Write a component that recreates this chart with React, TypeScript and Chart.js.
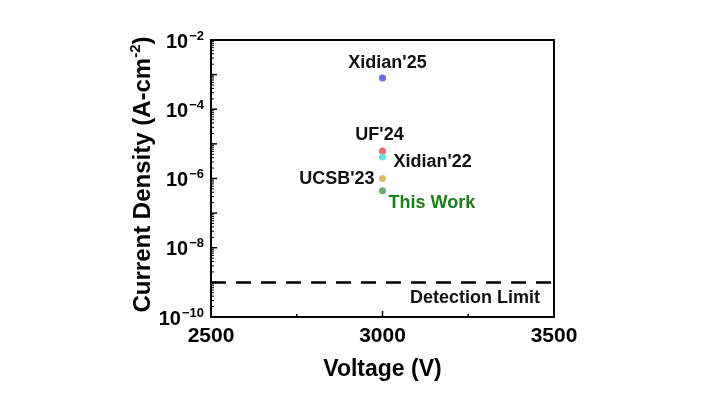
import React, { useEffect, useRef } from "react";
import { Chart, registerables } from "chart.js";

Chart.register(...registerables);

const pointNames = ["Xidian'25", "UF'24", "Xidian'22", "UCSB'23", "This Work"];
const voltages = [3000, 3000, 3000, 3000, 3000];
const currents = [8e-4, 6.2e-6, 4.2e-6, 1e-6, 4.4e-7];
const pointColors = ["#6a6af0", "#ee6a6a", "#6ae0e0", "#dcbc6a", "#6aa86a"];
const labelColors = ["#111", "#111", "#111", "#111", "#1a7f1a"];
// label placement: [dx, dy, align]
const labelPlace: [number, number, CanvasTextAlign][] = [
  [5, -15, "center"],
  [-3, -16, "center"],
  [11, 5, "left"],
  [-8, 1, "right"],
  [6, 12, "left"],
];

const detectionVoltages = [2500, 3500];
const detectionLimit = [1e-9, 1e-9];
const detectionText = "Detection Limit";

const xTicks = [2500, 3000, 3500];
const xMinorTicks = [2750, 3250];
const yTickExps = [-2, -4, -6, -8, -10];
const xTitle = "Voltage (V)";
const yTitle = "Current Density (A-cm";
const yTitleSup = "-2";

const FONT = "'Liberation Sans', Arial, sans-serif";

export default function App() {
  const ref = useRef<HTMLCanvasElement | null>(null);
  useEffect(() => {
    document.body.style.margin = "0";
    const canvas = ref.current!;
    const overlay = {
      id: "overlay",
      afterDraw(chart: any) {
        const ctx = chart.ctx as CanvasRenderingContext2D;
        const xs = chart.scales.x;
        const ys = chart.scales.y;
        const { left, right, top, bottom } = chart.chartArea;
        ctx.save();
        ctx.strokeStyle = "#000";
        ctx.fillStyle = "#000";
        // frame
        ctx.lineWidth = 2;
        ctx.strokeRect(left, top, right - left, bottom - top);
        // x ticks
        ctx.lineWidth = 1.5;
        for (const v of xTicks) {
          const px = xs.getPixelForValue(v);
          ctx.beginPath();
          ctx.moveTo(px, bottom);
          ctx.lineTo(px, bottom - 6);
          ctx.stroke();
        }
        for (const v of xMinorTicks) {
          const px = xs.getPixelForValue(v);
          ctx.beginPath();
          ctx.moveTo(px, bottom);
          ctx.lineTo(px, bottom - 3);
          ctx.stroke();
        }
        // y ticks
        for (let e = -10; e <= -2; e++) {
          const py = ys.getPixelForValue(Math.pow(10, e));
          ctx.lineWidth = 1.5;
          ctx.beginPath();
          ctx.moveTo(left, py);
          ctx.lineTo(left + 6, py);
          ctx.stroke();
          if (e < -2) {
            ctx.lineWidth = 1;
            for (let m = 2; m <= 9; m++) {
              const pm = ys.getPixelForValue(m * Math.pow(10, e));
              ctx.beginPath();
              ctx.moveTo(left, pm);
              ctx.lineTo(left + 3, pm);
              ctx.stroke();
            }
          }
        }
        // x tick labels
        ctx.font = `bold 21px ${FONT}`;
        ctx.textAlign = "center";
        ctx.textBaseline = "middle";
        for (const v of xTicks) {
          ctx.fillText(String(v), xs.getPixelForValue(v), 336);
        }
        // x title
        ctx.font = `bold 23px ${FONT}`;
        ctx.fillText(xTitle, (left + right) / 2, 370);
        // y tick labels
        for (const e of yTickExps) {
          const py = ys.getPixelForValue(Math.pow(10, e));
          const sup = "\u2212" + String(-e);
          ctx.font = `bold 13px ${FONT}`;
          const sw = ctx.measureText(sup).width;
          const supRight = left - 7;
          ctx.textAlign = "right";
          ctx.fillText(sup, supRight, py - 4);
          ctx.font = `bold 20px ${FONT}`;
          ctx.fillText("10", supRight - sw - 1, py + 2);
        }
        // y title
        ctx.save();
        ctx.translate(150, (top + bottom) / 2 - 4);
        ctx.rotate(-Math.PI / 2);
        ctx.font = `bold 24px ${FONT}`;
        const mainW = ctx.measureText(yTitle).width;
        ctx.font = `bold 15px ${FONT}`;
        const supW = ctx.measureText(yTitleSup).width;
        ctx.font = `bold 24px ${FONT}`;
        const closeW = ctx.measureText(")").width;
        const total = mainW + supW + closeW;
        let x0 = -total / 2;
        ctx.textAlign = "left";
        ctx.textBaseline = "alphabetic";
        ctx.fillText(yTitle, x0, 0);
        ctx.font = `bold 15px ${FONT}`;
        ctx.fillText(yTitleSup, x0 + mainW, -10);
        ctx.font = `bold 24px ${FONT}`;
        ctx.fillText(")", x0 + mainW + supW, 0);
        ctx.restore();
        // point labels
        const meta = chart.getDatasetMeta(0);
        ctx.font = `bold 18px ${FONT}`;
        ctx.textBaseline = "middle";
        meta.data.forEach((pt: any, i: number) => {
          const [dx, dy, al] = labelPlace[i];
          ctx.fillStyle = labelColors[i];
          ctx.textAlign = al;
          ctx.fillText(pointNames[i], pt.x + dx, pt.y + dy);
        });
        // detection limit text
        ctx.fillStyle = "#111";
        ctx.font = `bold 18px ${FONT}`;
        ctx.textAlign = "right";
        ctx.fillText(detectionText, right - 14, ys.getPixelForValue(detectionLimit[0]) + 16);
        ctx.restore();
      },
    };
    const chart = new Chart(canvas, {
      type: "scatter",
      data: {
        datasets: [
          {
            data: voltages.map((v, i) => ({ x: v, y: currents[i] })),
            backgroundColor: pointColors,
            borderWidth: 0,
            pointRadius: 3.5,
          },
          {
            type: "line",
            data: detectionVoltages.map((v, i) => ({ x: v, y: detectionLimit[i] })),
            borderColor: "#000",
            borderWidth: 2.5,
            borderDash: [15, 10],
            pointRadius: 0,
            fill: false,
          } as any,
        ],
      },
      options: {
        animation: false,
        responsive: false,
        maintainAspectRatio: false,
        layout: { padding: { left: 211, right: 168, top: 40, bottom: 97 } },
        plugins: { legend: { display: false }, tooltip: { enabled: false } },
        scales: {
          x: { type: "linear", min: 2500, max: 3500, display: false },
          y: { type: "logarithmic", min: 1e-10, max: 1e-2, display: false },
        },
      },
      plugins: [overlay],
    });
    return () => chart.destroy();
  }, []);
  return <canvas ref={ref} width={722} height={414} style={{ display: "block" }} />;
}
